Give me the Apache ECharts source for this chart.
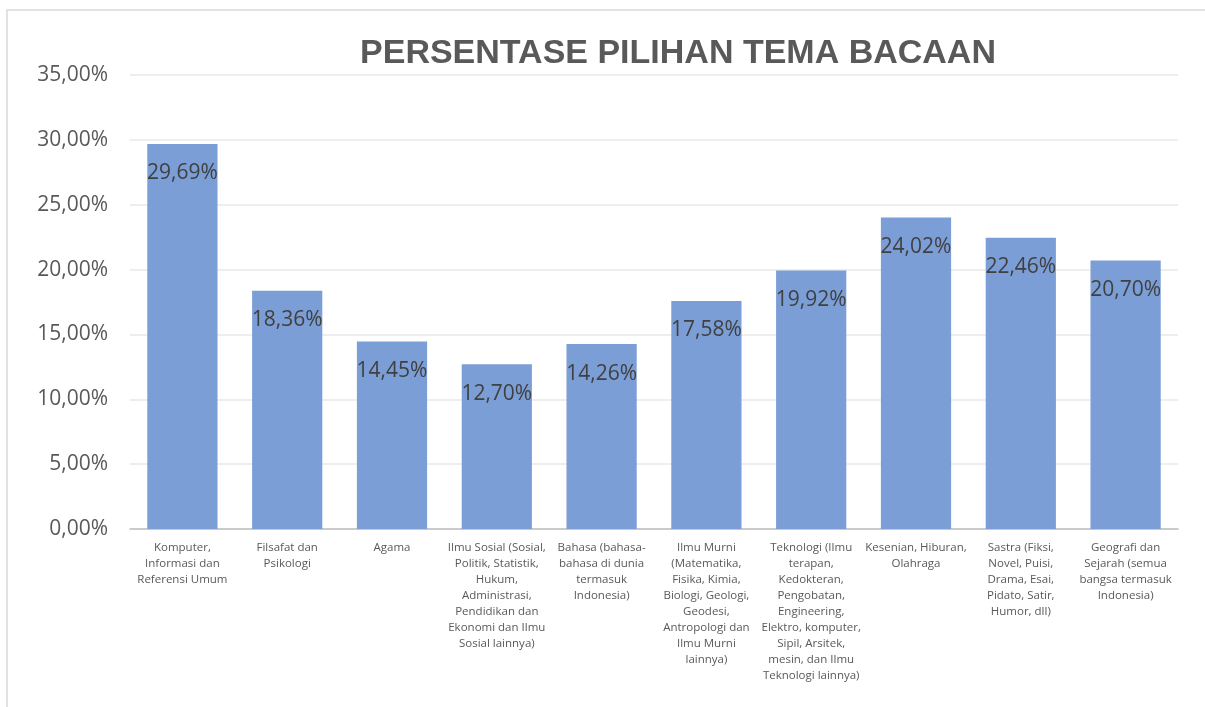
<!DOCTYPE html>
<html>
<head>
<meta charset="utf-8">
<script src="https://cdn.jsdelivr.net/npm/echarts@6/dist/echarts.min.js"></script>
<style>
html,body{margin:0;padding:0;background:#fff;}
#chart{width:1205px;height:707px;}
</style>
</head>
<body>
<div id="chart"></div>
<script>
// kategori tema bacaan (baris dipatah seperti di gambar)
var categories = [
	'Komputer,\nInformasi dan\nReferensi Umum',
	'Filsafat dan\nPsikologi',
	'Agama',
	'Ilmu Sosial (Sosial,\nPolitik, Statistik,\nHukum,\nAdministrasi,\nPendidikan dan\nEkonomi dan Ilmu\nSosial lainnya)',
	'Bahasa (bahasa-\nbahasa di dunia\ntermasuk\nIndonesia)',
	'Ilmu Murni\n(Matematika,\nFisika, Kimia,\nBiologi, Geologi,\nGeodesi,\nAntropologi dan\nIlmu Murni\nlainnya)',
	'Teknologi (Ilmu\nterapan,\nKedokteran,\nPengobatan,\nEngineering,\nElektro, komputer,\nSipil, Arsitek,\nmesin, dan Ilmu\nTeknologi lainnya)',
	'Kesenian, Hiburan,\nOlahraga',
	'Sastra (Fiksi,\nNovel, Puisi,\nDrama, Esai,\nPidato, Satir,\nHumor, dll)',
	'Geografi dan\nSejarah (semua\nbangsa termasuk\nIndonesia)'
];
var persen = [29.69, 18.36, 14.45, 12.70, 14.26, 17.58, 19.92, 24.02, 22.46, 20.70];
var yMin = 0, yMax = 35, yStep = 5;

function fmt(v){
	return v.toFixed(2).replace('.', ',') + '%';
}

var myChart = echarts.init(document.getElementById('chart'));
var option = {
	backgroundColor: '#fff',
	animation: false,
	title: {
		text: 'PERSENTASE PILIHAN TEMA BACAAN',
		left: 673,
		top: 32,
		textAlign: 'center',
		textStyle: {
			fontFamily: 'Liberation Sans',
			fontWeight: 'bold',
			fontSize: 34,
			color: '#595959'
		}
	},
	graphic: [{
		type: 'rect',
		shape: {x: 7, y: 10, width: 1250, height: 760},
		style: {fill: 'none', stroke: '#d9d9d9', lineWidth: 1.5},
		silent: true
	}],
	grid: {left: 130, right: 27, top: 75, bottom: 178},
	xAxis: {
		type: 'category',
		data: categories,
		axisLine: {lineStyle: {color: '#bfbfbf', width: 1.5}},
		axisTick: {show: false},
		axisLabel: {
			interval: 0,
			margin: 11,
			fontFamily: 'Open Sans',
			fontSize: 11.5,
			lineHeight: 16,
			color: '#595959',
			align: 'center'
		}
	},
	yAxis: {
		type: 'value',
		min: yMin,
		max: yMax,
		interval: yStep,
		axisLine: {show: false},
		axisTick: {show: false},
		splitLine: {lineStyle: {color: '#e8e8e8', width: 1.5}},
		axisLabel: {
			margin: 22,
			fontFamily: 'Open Sans',
			fontSize: 21,
			color: '#595959',
			formatter: function(v){ return fmt(v); }
		}
	},
	series: [{
		type: 'bar',
		data: persen,
		barWidth: '67%',
		itemStyle: {color: '#7b9ed6'},
		label: {
			show: true,
			position: 'insideTop',
			distance: 19,
			fontFamily: 'Open Sans',
			fontSize: 21,
			color: '#404040',
			formatter: function(p){ return fmt(p.value); }
		}
	}]
};
myChart.setOption(option);
</script>
</body>
</html>
